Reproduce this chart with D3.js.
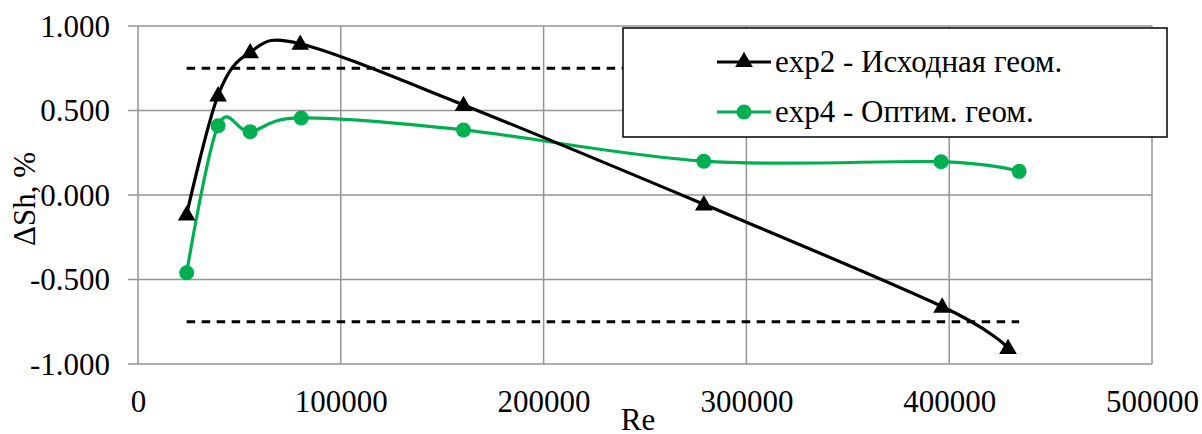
<!DOCTYPE html>
<html><head><meta charset="utf-8">
<script src="https://cdn.jsdelivr.net/npm/d3@7"></script>
<style>body{margin:0;background:#fff}svg{display:block}svg text{font-family:"Liberation Serif","Times New Roman",serif !important}</style>
</head><body>
<svg id="c" width="1202" height="434"></svg>
<script>
const reValues = [24000, 39500, 55300, 80000, 160500, 279000, 396500, 429000];
const exp2Values = [-0.115, 0.59, 0.845, 0.895, 0.533, -0.055, -0.66, -0.905];
const reValues4 = [24000, 39500, 55300, 80500, 160500, 279000, 396000, 434500];
const exp4Values = [-0.46, 0.41, 0.375, 0.456, 0.385, 0.2, 0.197, 0.14];
const limitValues = [0.75, -0.75];
const limitRange = [24000, 434500];
const xTicks = [0, 100000, 200000, 300000, 400000, 500000];
const yTicks = [-1, -0.5, 0, 0.5, 1];
const seriesNames = ["exp2 - Исходная геом.", "exp4 - Оптим. геом."];

const svg = d3.select("#c");
const L = 138, R = 1152, T = 26, B = 364;
const x = d3.scaleLinear().domain([0, 500000]).range([L, R]);
const y = d3.scaleLinear().domain([-1, 1]).range([B, T]);
const grid = "#959595";
const fs = 31;
const ff = "Liberation Serif";

// grid
svg.append("g").selectAll("line").data(xTicks).join("line")
  .attr("x1", d => x(d)).attr("x2", d => x(d)).attr("y1", T).attr("y2", B)
  .attr("stroke", grid).attr("stroke-width", 1.5);
svg.append("g").selectAll("line").data(yTicks).join("line")
  .attr("x1", L - 10).attr("x2", R).attr("y1", d => y(d)).attr("y2", d => y(d))
  .attr("stroke", grid).attr("stroke-width", 1.5);

// axes labels
const fmtY = d => d3.format(".3f")(d).replace("\u2212", "-");
const yAxis = d3.axisLeft(y).tickValues(yTicks).tickFormat(fmtY).tickSize(0).tickPadding(0);
const ya = svg.append("g").attr("transform", `translate(110,0)`).call(yAxis);
ya.attr("font-family", ff).attr("font-size", fs);
ya.select(".domain").remove();
ya.selectAll("text").attr("fill", "#000").attr("dy", "0.33em").attr("x", 0);

const xAxis = d3.axisBottom(x).tickValues(xTicks).tickFormat(d3.format("d")).tickSize(0).tickPadding(0);
const xa = svg.append("g").call(xAxis);
xa.attr("font-family", ff).attr("font-size", fs);
xa.select(".domain").remove();
xa.selectAll("text").attr("fill", "#000").attr("y", 412).attr("dy", 0);

svg.append("text").attr("x", 638).attr("y", 430).attr("text-anchor", "middle")
  .attr("font-family", ff).attr("font-size", fs).text("Re");
svg.append("text").attr("transform", "translate(35,199) rotate(-90)").attr("text-anchor", "middle")
  .attr("font-family", ff).attr("font-size", fs).text("ΔSh, %");

// limit lines
svg.append("g").selectAll("line").data(limitValues).join("line")
  .attr("x1", x(limitRange[0])).attr("x2", x(limitRange[1]))
  .attr("y1", d => y(d)).attr("y2", d => y(d))
  .attr("stroke", "#000").attr("stroke-width", 3).attr("stroke-dasharray", "8.5,6.5");

const line = d3.line().curve(d3.curveCardinal.tension(0)).x(d => x(d[0])).y(d => y(d[1]));
const s2 = reValues.map((r, i) => [r, exp2Values[i]]);
const s4 = reValues4.map((r, i) => [r, exp4Values[i]]);
const green = "#00b050";

svg.append("path").datum(s4).attr("d", line).attr("fill", "none").attr("stroke", green).attr("stroke-width", 3.2);
svg.append("path").datum(s2).attr("d", line).attr("fill", "none").attr("stroke", "#000").attr("stroke-width", 3.2);

const tri = d3.symbol().type(d3.symbolTriangle).size(135);
svg.append("g").selectAll("path").data(s2).join("path")
  .attr("d", tri).attr("transform", d => `translate(${x(d[0])},${y(d[1])+1})`).attr("fill", "#000");
svg.append("g").selectAll("circle").data(s4).join("circle")
  .attr("cx", d => x(d[0])).attr("cy", d => y(d[1])).attr("r", 7.5).attr("fill", green);

// legend
const lg = svg.append("g");
lg.append("rect").attr("x", 623).attr("y", 28).attr("width", 544).attr("height", 109)
  .attr("fill", "#fff").attr("stroke", "#000").attr("stroke-width", 1.5);
const entries = [{name: seriesNames[0], c: "#000", m: "tri", cy: 62}, {name: seriesNames[1], c: green, m: "circ", cy: 112}];
entries.forEach(e => {
  lg.append("line").attr("x1", 717).attr("x2", 771).attr("y1", e.cy).attr("y2", e.cy)
    .attr("stroke", e.c).attr("stroke-width", 3.2);
  if (e.m === "tri") lg.append("path").attr("d", tri).attr("transform", `translate(744,${e.cy})`).attr("fill", e.c);
  else lg.append("circle").attr("cx", 744).attr("cy", e.cy).attr("r", 7.5).attr("fill", e.c);
  lg.append("text").attr("x", 775).attr("y", e.cy).attr("dy", "0.33em")
    .attr("font-family", ff).attr("font-size", fs).text(e.name);
});
</script>
</body></html>
